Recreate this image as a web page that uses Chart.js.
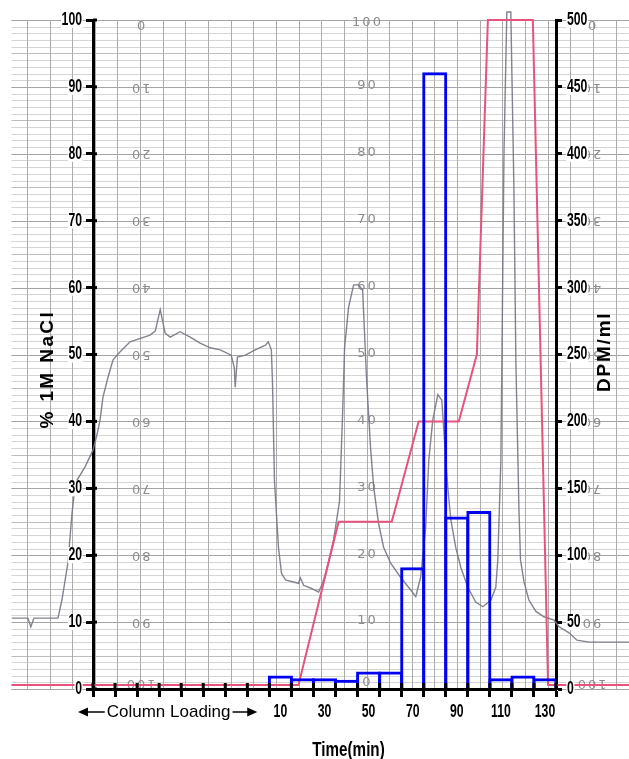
<!DOCTYPE html>
<html>
<head>
<meta charset="utf-8">
<script src="https://cdn.jsdelivr.net/npm/chart.js@4.4.1/dist/chart.umd.min.js"></script>
<style>
  html, body { margin: 0; padding: 0; background: #fff; }
  #wrap { width: 629px; height: 759px; }
</style>
</head>
<body>
<div id="wrap"><canvas id="chromChart" width="629" height="759"></canvas></div>
<script>
// 8 empty slots while the column is loading, then one fraction every 10 min
var loadingSlots = 8;
var fractionTimes = [10, 20, 30, 40, 50, 60, 70, 80, 90, 100, 110, 120, 130];
var dpmPerMl = [10, 8, 8, 7, 13, 13, 91, 461, 129, 133, 8, 10, 8];
var timeTickLabels = ['10', '30', '50', '70', '90', '110', '130'];

// salt gradient (% 1M NaCl) vs time (min)
var gradientTime = [-112, 18.2, 36.4, 60.5, 72.7, 90.9, 99.1, 104.1, 124.5, 131.4, 169];
var gradientNaCl = [0.6, 0.6, 25, 25, 40, 40, 50, 100, 100, 0.6, 0.6];

// recorder trace, read against the % scale
var traceTime = [-111.8, -104.5, -103.2, -101.8, -90.9, -89.1, -86.4, -84.5, -83.6, -82.3,
  -78.6, -75, -73.2, -71.8, -70.5, -68.2, -65.9, -62.7, -58.2, -49.1,
  -46.8, -44.5, -42.3, -40, -35.5, -30.9, -26.4, -21.8, -17.3, -12.3,
  -10.9, -10.5, -9.5, -5.9, -1.4, 3.2, 4.5, 5.9, 6.4, 7.3,
  9.1, 10.5, 12.3, 18.2, 19.1, 20.5, 23.6, 27.3, 29.1, 30.9,
  34.1, 36.8, 38.2, 39.1, 40.9, 43.2, 45.5, 47.3, 49.1, 50.9,
  52.3, 54.5, 56.8, 60, 64.5, 69.1, 71.4, 73.6, 75.9, 77.3,
  79.1, 81.4, 83.2, 84.5, 85.9, 87.3, 89.5, 91.8, 95, 98.6,
  101.8, 105.5, 107.7, 108.6, 110, 111.4, 112.7, 114.5, 115.9, 116.8,
  118.2, 118.9, 120.5, 122.7, 125.9, 129.5, 134.1, 136.4, 140.9, 144.5,
  150, 168.6];
var traceLevel = [10.6, 10.6, 9.3, 10.6, 10.6, 13.3, 18.8, 26.3, 29, 31.2,
  33.2, 35.7, 38, 40.2, 43.6, 46.6, 49.2, 50.4, 51.9, 52.9,
  53.5, 56.7, 53.2, 52.6, 53.4, 52.6, 51.7, 51, 50.7, 49.9,
  48, 45.1, 49.6, 49.9, 50.7, 51.4, 51.9, 50.7, 46, 31.2,
  21.2, 17.3, 16.3, 15.8, 16.6, 15.5, 15.1, 14.5, 15.8, 17.8,
  22.3, 28, 41, 51, 57, 60.4, 60.4, 59.6, 46.2, 36,
  30.2, 24.8, 21.2, 18.8, 16.7, 14.8, 13.8, 16.7, 24.2, 34.2,
  40.2, 44, 43.2, 36.8, 30.2, 25.3, 21.2, 18.2, 15.2, 13,
  12.3, 13.3, 15.2, 19.3, 34.2, 80, 101.2, 101.2, 75, 49,
  26.8, 19.3, 16, 13.3, 11.6, 10.8, 10.3, 9.3, 8.4, 7.3,
  7, 7];

// numbers printed on the recorder paper
var paperScale = [0, 10, 20, 30, 40, 50, 60, 70, 80, 90, 100];

Chart.defaults.font.family = "'Liberation Sans', Arial, sans-serif";
Chart.defaults.color = '#000';

var categories = [];
var barValues = [];
for (var i = 0; i < loadingSlots; i++) {
  categories.push('');
  barValues.push(null);
}
categories = categories.concat(fractionTimes.map(String));
barValues = barValues.concat(dpmPerMl);

function pairUp(xs, ys) {
  return xs.map(function (x, i) { return { x: x, y: ys[i] }; });
}

// narrow bold lettering like the original (squeezed Arial)
var squeeze = 0.68;
var labelFont = "bold 18px 'Liberation Sans', Arial, sans-serif";
function narrowText(c, text, x, y, align, backdrop) {
  c.save();
  c.font = labelFont;
  c.translate(x, y);
  c.scale(squeeze, 1);
  var w = c.measureText(text).width;
  var x0 = align === 'right' ? -w : (align === 'center' ? -w / 2 : 0);
  if (backdrop) {
    c.fillStyle = '#fff';
    c.fillRect(x0 - 1, -8, w + 2, 16);
  }
  c.fillStyle = '#000';
  c.textAlign = align;
  c.textBaseline = 'middle';
  c.fillText(text, 0, 0);
  c.restore();
}

// the strip-chart paper behind everything
var paperPlugin = {
  id: 'paper',
  beforeDraw: function (chart) {
    var c = chart.ctx, y = chart.scales.y, t = chart.scales.x2;
    var left = t.getPixelForValue(-112);
    var right = chart.width;
    var top = y.getPixelForValue(100), bottom = y.getPixelForValue(0) + 1;
    c.save();
    c.fillStyle = '#fff';
    c.fillRect(0, 0, chart.width, chart.height);
    for (var v = 0; v <= 100; v++) {
      var py = Math.round(y.getPixelForValue(v)) + 0.5;
      c.strokeStyle = v % 10 === 0 ? '#a4a4a4' : (v % 5 === 0 ? '#bdbdbd' : '#d5d5d5');
      c.lineWidth = 1;
      c.beginPath(); c.moveTo(left, py); c.lineTo(right, py); c.stroke();
    }
    c.strokeStyle = '#ababab';
    for (var k = 0; ; k++) {
      var px = t.getPixelForValue(-105 + k * 10.27);
      if (px > right) break;
      px = Math.round(px) + 0.5;
      c.beginPath(); c.moveTo(px, top); c.lineTo(px, bottom); c.stroke();
    }
    c.fillStyle = '#8c8c8c';
    c.font = "13px 'DejaVu Sans', sans-serif";
    c.textAlign = 'center';
    c.textBaseline = 'middle';
    c.letterSpacing = '2px';
    paperScale.forEach(function (p) {
      var vUp = Math.min(Math.max(100 - p, 0.8), 99.4);
      [-53.6, 150.9].forEach(function (tx) {
        c.save();
        c.translate(t.getPixelForValue(tx), y.getPixelForValue(vUp));
        c.rotate(Math.PI);
        c.fillText(String(p), 0, 0);
        c.restore();
      });
      var vMid = Math.min(Math.max(p, 0.8), 99.4);
      c.fillText(String(p), t.getPixelForValue(49.5), y.getPixelForValue(vMid) - 1);
    });
    c.restore();
  }
};

// tick labels, titles, loading arrow and the inner half of the tick marks
var annotatePlugin = {
  id: 'annotate',
  afterDraw: function (chart) {
    var c = chart.ctx, a = chart.chartArea;
    var xs = chart.scales.x, ys = chart.scales.y, ys1 = chart.scales.y1, t = chart.scales.x2;
    c.save();
    c.strokeStyle = '#000';
    c.lineWidth = 3;
    for (var k = 0; k <= categories.length; k++) {
      var px = xs.getPixelForValue(k - 0.5);
      c.beginPath(); c.moveTo(px, a.bottom - 6); c.lineTo(px, a.bottom); c.stroke();
    }
    ys.ticks.forEach(function (tk) {
      var py = ys.getPixelForValue(tk.value);
      c.beginPath(); c.moveTo(a.left, py); c.lineTo(a.left + 4, py); c.stroke();
      narrowText(c, String(tk.value), a.left - 11, py, 'right', true);
    });
    ys1.ticks.forEach(function (tk) {
      narrowText(c, String(tk.value), a.right + 11, ys1.getPixelForValue(tk.value), 'left', true);
    });
    categories.forEach(function (lab, idx) {
      if (timeTickLabels.indexOf(lab) >= 0) {
        narrowText(c, lab, xs.getPixelForValue(idx), 712, 'center', false);
      }
    });

    c.save();
    c.font = "bold 20px 'Liberation Sans', Arial, sans-serif";
    c.fillStyle = '#000';
    c.textAlign = 'center';
    c.textBaseline = 'middle';
    c.translate(t.getPixelForValue(40.9), 750);
    c.scale(0.76, 1);
    c.fillText('Time(min)', 0, 0);
    c.restore();

    c.fillStyle = '#000';
    c.font = "bold 19px 'Liberation Sans', Arial, sans-serif";
    c.textAlign = 'center';
    c.textBaseline = 'middle';
    c.letterSpacing = '2.4px';
    c.save();
    c.translate(47.5, ys.getPixelForValue(47.8));
    c.rotate(-Math.PI / 2);
    c.fillText('% 1M NaCl', 0, 0);
    c.restore();
    c.letterSpacing = '1.8px';
    c.save();
    c.translate(605, ys.getPixelForValue(50.4));
    c.rotate(-Math.PI / 2);
    c.fillText('DPM/ml', 0, 0);
    c.restore();

    c.letterSpacing = '0px';
    c.font = "17px 'Liberation Sans', Arial, sans-serif";
    var ly = 712;
    var cx = t.getPixelForValue(-40.7);
    var w = c.measureText('Column Loading').width;
    c.fillText('Column Loading', cx, ly);
    var l0 = t.getPixelForValue(-81.8), l1 = cx - w / 2 - 2;
    var r0 = cx + w / 2 + 2, r1 = t.getPixelForValue(-0.5);
    c.lineWidth = 1.5;
    c.beginPath(); c.moveTo(l0 + 6, ly); c.lineTo(l1, ly); c.stroke();
    c.beginPath(); c.moveTo(r0, ly); c.lineTo(r1 - 6, ly); c.stroke();
    c.beginPath(); c.moveTo(l0, ly); c.lineTo(l0 + 10, ly - 4.5); c.lineTo(l0 + 10, ly + 4.5); c.fill();
    c.beginPath(); c.moveTo(r1, ly); c.lineTo(r1 - 10, ly - 4.5); c.lineTo(r1 - 10, ly + 4.5); c.fill();
    c.restore();
  }
};

var chromChart = new Chart(document.getElementById('chromChart'), {
  type: 'bar',
  data: {
    labels: categories,
    datasets: [
      {
        type: 'bar',
        label: 'DPM/ml',
        data: barValues,
        yAxisID: 'y1',
        xAxisID: 'x',
        backgroundColor: 'rgba(0,0,0,0)',
        borderColor: '#0000f0',
        borderWidth: 3,
        grouped: false,
        barPercentage: 1.136,
        categoryPercentage: 1,
        order: 0
      },
      {
        type: 'line',
        label: '% 1M NaCl',
        data: pairUp(gradientTime, gradientNaCl),
        xAxisID: 'x2',
        yAxisID: 'y',
        borderColor: '#e6537d',
        borderWidth: 2,
        pointRadius: 0,
        tension: 0,
        clip: false,
        order: 1
      },
      {
        type: 'line',
        label: 'trace',
        data: pairUp(traceTime, traceLevel),
        xAxisID: 'x2',
        yAxisID: 'y',
        borderColor: 'rgba(118,118,132,0.9)',
        borderWidth: 1.4,
        pointRadius: 0,
        tension: 0,
        clip: false,
        order: 2
      }
    ]
  },
  options: {
    responsive: false,
    animation: false,
    devicePixelRatio: 1,
    layout: { padding: { top: 20, left: 0, right: 0, bottom: 0 } },
    plugins: {
      legend: { display: false },
      tooltip: { enabled: false }
    },
    scales: {
      x: {
        type: 'category',
        offset: true,
        border: { color: '#000', width: 3 },
        grid: { offset: true, drawOnChartArea: false, tickLength: 8, tickWidth: 3, tickColor: '#000' },
        ticks: { display: false, autoSkip: false },
        afterFit: function (s) { s.height = 70; }
      },
      x2: {
        type: 'linear',
        display: false,
        offset: false,
        bounds: 'data',
        // time window of the category axis: -75 .. 135 min
        afterDataLimits: function (s) { s.min = -75; s.max = 135; }
      },
      y: {
        position: 'left',
        min: 0,
        max: 100,
        border: { color: '#000', width: 3 },
        grid: { drawOnChartArea: false, tickLength: 7, tickWidth: 3, tickColor: '#000' },
        ticks: { display: false, stepSize: 10 },
        afterFit: function (s) { s.width = 93; }
      },
      y1: {
        position: 'right',
        min: 0,
        max: 500,
        border: { color: '#000', width: 3 },
        grid: { drawOnChartArea: false, tickLength: 6, tickWidth: 3, tickColor: '#000' },
        ticks: { display: false, stepSize: 50 },
        afterFit: function (s) { s.width = 73; }
      }
    }
  },
  plugins: [paperPlugin, annotatePlugin]
});
</script>
</body>
</html>
